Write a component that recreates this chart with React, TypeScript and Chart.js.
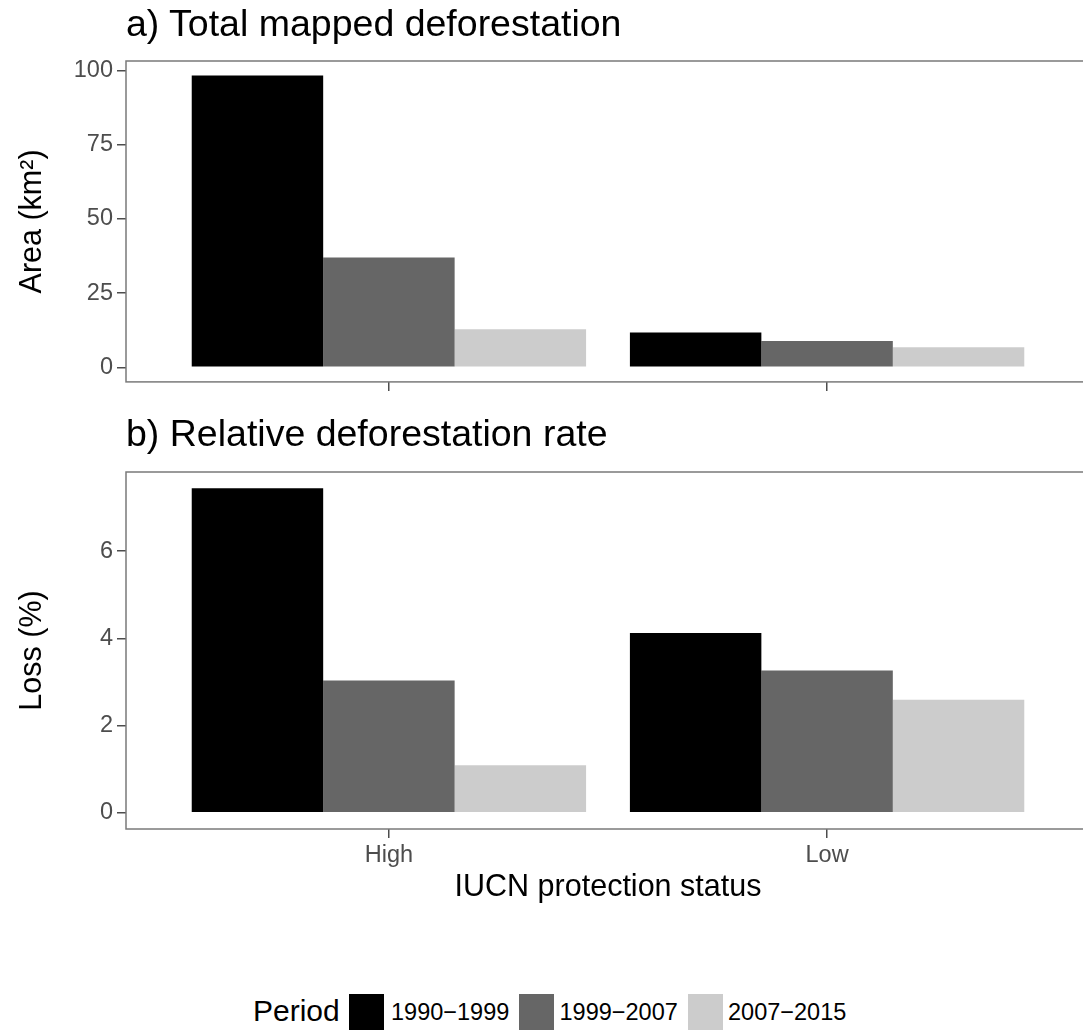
import React, { useEffect, useRef } from "react";
import { Chart, registerables } from "chart.js";

Chart.register(...registerables);

// ---- data ----
const categories = ["High", "Low"];
const periods = ["1990−1999", "1999−2007", "2007−2015"];
const periodColors = ["#000000", "#666666", "#cccccc"];

const area1990 = [98.3, 11.7];
const area1999 = [37.0, 8.9];
const area2007 = [12.8, 6.75];

const loss1990 = [7.44, 4.12];
const loss1999 = [3.03, 3.26];
const loss2007 = [1.09, 2.59];

const areaTicks = [0, 25, 50, 75, 100];
const lossTicks = [0, 2, 4, 6];

const FONT = "'Liberation Sans', Arial, Helvetica, sans-serif";
Chart.defaults.font.family = FONT;

const panelBorder = {
  id: "panelBorder",
  afterDraw(chart: any) {
    const { ctx, chartArea } = chart;
    const { left, top, right, bottom } = chartArea;
    ctx.save();
    ctx.strokeStyle = "#7a7a7a";
    ctx.lineWidth = 1.5;
    ctx.strokeRect(left, top, right - left, bottom - top);
    ctx.restore();
  },
};

function buildConfig(
  series: number[][],
  yTicks: number[],
  yTitle: string,
  showXLabels: boolean,
  padTop: number,
  xHeight: number
): any {
  const all = series.flat();
  const maxV = Math.max(...all);
  const minV = Math.min(0, ...all);
  const span = maxV - minV;
  return {
    type: "bar",
    data: {
      datasets: series.map((vals, i) => ({
        label: periods[i],
        data: categories.map((_, j) => ({ x: j + 1, y: vals[j] })),
        backgroundColor: periodColors[i],
        borderWidth: 0,
        categoryPercentage: 0.9,
        barPercentage: 1,
      })),
    },
    options: {
      responsive: false,
      animation: false,
      devicePixelRatio: 1,
      layout: { padding: { top: padTop, right: 10, left: 0, bottom: 0 } },
      plugins: { legend: { display: false }, tooltip: { enabled: false }, title: { display: false } },
      scales: {
        x: {
          type: "linear",
          min: 0.4,
          max: 2.6,
          offset: false,
          afterBuildTicks: (s: any) => {
            s.ticks = categories.map((_, i) => ({ value: i + 1 }));
          },
          afterFit: (s: any) => {
            s.height = xHeight;
          },
          ticks: {
            display: true,
            autoSkip: false,
            maxRotation: 0,
            color: "#4d4d4d",
            font: { size: 23.5 },
            padding: 3,
            callback: (v: any) => (showXLabels ? categories[Math.round(v) - 1] : ""),
          },
          grid: {
            offset: false,
            drawOnChartArea: false,
            drawTicks: true,
            tickLength: 9,
            color: "#4d4d4d",
            lineWidth: 1.5,
          },
          border: { display: false },
          title: {
            display: showXLabels,
            text: "IUCN protection status",
            color: "#000000",
            font: { size: 30.5 },
            padding: { top: 0, bottom: 4 },
          },
        },
        y: {
          min: minV - span * 0.05,
          max: maxV + span * 0.05,
          afterBuildTicks: (s: any) => {
            s.ticks = yTicks.map((v) => ({ value: v }));
          },
          afterFit: (s: any) => {
            s.width = 126;
          },
          ticks: {
            color: "#4d4d4d",
            font: { size: 23.5 },
            padding: 4,
          },
          grid: {
            drawOnChartArea: false,
            drawTicks: true,
            tickLength: 9,
            color: "#4d4d4d",
            lineWidth: 1.5,
          },
          border: { display: false },
          title: {
            display: true,
            text: yTitle,
            color: "#000000",
            font: { size: 30.5 },
            padding: { top: 14, bottom: 0 },
          },
        },
      },
    },
    plugins: [panelBorder],
  };
}

function Panel(props: { config: any; top: number; height: number }) {
  const ref = useRef<HTMLCanvasElement | null>(null);
  useEffect(() => {
    if (!ref.current) return;
    const chart = new Chart(ref.current, props.config);
    return () => chart.destroy();
  }, []);
  return (
    <canvas
      ref={ref}
      width={1100}
      height={props.height}
      style={{ position: "absolute", left: 0, top: props.top, width: 1100, height: props.height }}
    />
  );
}

export default function App() {
  const cfgA = buildConfig([area1990, area1999, area2007], areaTicks, "Area (km²)", false, 61, 18);
  const cfgB = buildConfig([loss1990, loss1999, loss2007], lossTicks, "Loss (%)", true, 72, 81);
  const titleStyle: React.CSSProperties = {
    position: "absolute",
    left: 126,
    fontSize: 37.5,
    lineHeight: 1,
    color: "#000",
    whiteSpace: "nowrap",
  };
  const legendLabel: React.CSSProperties = {
    position: "absolute",
    fontSize: 23.5,
    lineHeight: 1,
    top: 1001,
    color: "#000",
    whiteSpace: "nowrap",
  };
  return (
    <div
      style={{
        position: "absolute",
        left: 0,
        top: 0,
        width: 1083,
        height: 1032,
        overflow: "hidden",
        background: "#ffffff",
        fontFamily: FONT,
      }}
    >
      <Panel config={cfgA} top={0} height={400} />
      <Panel config={cfgB} top={400} height={510} />
      <div style={{ ...titleStyle, top: 5 }}>a) Total mapped deforestation</div>
      <div style={{ ...titleStyle, top: 415 }}>b) Relative deforestation rate</div>
      <div style={{ position: "absolute", left: 253, top: 996, fontSize: 30, lineHeight: 1, color: "#000" }}>Period</div>
      {periods.map((p, i) => (
        <React.Fragment key={p}>
          <div
            style={{
              position: "absolute",
              left: 349 + i * 169.5,
              top: 994,
              width: 35,
              height: 36,
              background: periodColors[i],
            }}
          />
          <div style={{ ...legendLabel, left: 391 + i * 168.5 }}>{p}</div>
        </React.Fragment>
      ))}
    </div>
  );
}
